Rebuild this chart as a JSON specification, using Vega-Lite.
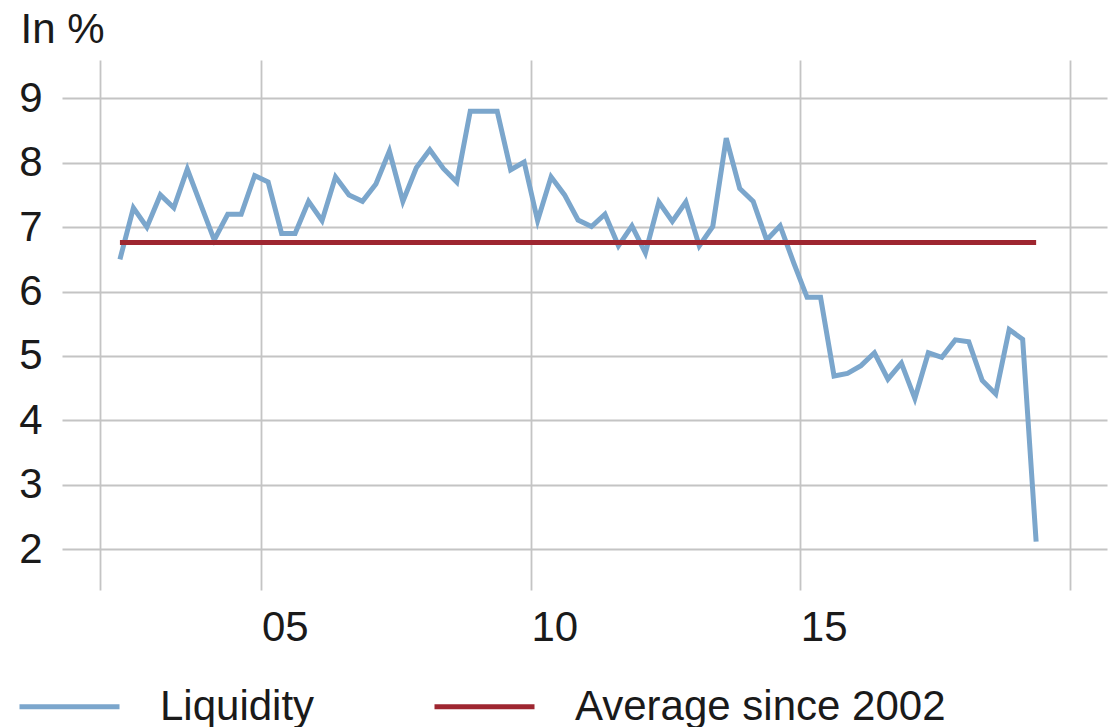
{
  "$schema": "https://vega.github.io/schema/vega-lite/v6.json",
  "width": 1045,
  "height": 530,
  "autosize": {"type": "none"},
  "padding": {"left": 62, "top": 60, "right": 6, "bottom": 137},
  "background": "white",
  "config": {
    "view": {"stroke": null},
    "font": "Liberation Sans",
    "axis": {
      "gridColor": "#c4c4c4",
      "gridWidth": 1.8,
      "domain": false,
      "ticks": false,
      "tickSize": 0,
      "labelFont": "Liberation Sans",
      "labelFontSize": 42,
      "labelColor": "#1a1a1a",
      "titleFont": "Liberation Sans"
    }
  },
  "datasets": {
    "liq": [
      {"t": 2002.375, "v": 6.5, "series": "Liquidity"},
      {"t": 2002.625, "v": 7.3, "series": "Liquidity"},
      {"t": 2002.875, "v": 7.0, "series": "Liquidity"},
      {"t": 2003.125, "v": 7.5, "series": "Liquidity"},
      {"t": 2003.375, "v": 7.3, "series": "Liquidity"},
      {"t": 2003.625, "v": 7.9, "series": "Liquidity"},
      {"t": 2003.875, "v": 7.35, "series": "Liquidity"},
      {"t": 2004.125, "v": 6.8, "series": "Liquidity"},
      {"t": 2004.375, "v": 7.2, "series": "Liquidity"},
      {"t": 2004.625, "v": 7.2, "series": "Liquidity"},
      {"t": 2004.875, "v": 7.8, "series": "Liquidity"},
      {"t": 2005.125, "v": 7.7, "series": "Liquidity"},
      {"t": 2005.375, "v": 6.9, "series": "Liquidity"},
      {"t": 2005.625, "v": 6.9, "series": "Liquidity"},
      {"t": 2005.875, "v": 7.4, "series": "Liquidity"},
      {"t": 2006.125, "v": 7.1, "series": "Liquidity"},
      {"t": 2006.375, "v": 7.78, "series": "Liquidity"},
      {"t": 2006.625, "v": 7.5, "series": "Liquidity"},
      {"t": 2006.875, "v": 7.4, "series": "Liquidity"},
      {"t": 2007.125, "v": 7.67, "series": "Liquidity"},
      {"t": 2007.375, "v": 8.18, "series": "Liquidity"},
      {"t": 2007.625, "v": 7.4, "series": "Liquidity"},
      {"t": 2007.875, "v": 7.92, "series": "Liquidity"},
      {"t": 2008.125, "v": 8.2, "series": "Liquidity"},
      {"t": 2008.375, "v": 7.91, "series": "Liquidity"},
      {"t": 2008.625, "v": 7.7, "series": "Liquidity"},
      {"t": 2008.875, "v": 8.8, "series": "Liquidity"},
      {"t": 2009.125, "v": 8.8, "series": "Liquidity"},
      {"t": 2009.375, "v": 8.8, "series": "Liquidity"},
      {"t": 2009.625, "v": 7.89, "series": "Liquidity"},
      {"t": 2009.875, "v": 8.01, "series": "Liquidity"},
      {"t": 2010.125, "v": 7.1, "series": "Liquidity"},
      {"t": 2010.375, "v": 7.78, "series": "Liquidity"},
      {"t": 2010.625, "v": 7.5, "series": "Liquidity"},
      {"t": 2010.875, "v": 7.11, "series": "Liquidity"},
      {"t": 2011.125, "v": 7.01, "series": "Liquidity"},
      {"t": 2011.375, "v": 7.2, "series": "Liquidity"},
      {"t": 2011.625, "v": 6.71, "series": "Liquidity"},
      {"t": 2011.875, "v": 7.02, "series": "Liquidity"},
      {"t": 2012.125, "v": 6.6, "series": "Liquidity"},
      {"t": 2012.375, "v": 7.39, "series": "Liquidity"},
      {"t": 2012.625, "v": 7.09, "series": "Liquidity"},
      {"t": 2012.875, "v": 7.39, "series": "Liquidity"},
      {"t": 2013.125, "v": 6.71, "series": "Liquidity"},
      {"t": 2013.375, "v": 7.01, "series": "Liquidity"},
      {"t": 2013.625, "v": 8.38, "series": "Liquidity"},
      {"t": 2013.875, "v": 7.6, "series": "Liquidity"},
      {"t": 2014.125, "v": 7.4, "series": "Liquidity"},
      {"t": 2014.375, "v": 6.8, "series": "Liquidity"},
      {"t": 2014.625, "v": 7.02, "series": "Liquidity"},
      {"t": 2014.875, "v": 6.45, "series": "Liquidity"},
      {"t": 2015.125, "v": 5.91, "series": "Liquidity"},
      {"t": 2015.375, "v": 5.91, "series": "Liquidity"},
      {"t": 2015.625, "v": 4.69, "series": "Liquidity"},
      {"t": 2015.875, "v": 4.73, "series": "Liquidity"},
      {"t": 2016.125, "v": 4.85, "series": "Liquidity"},
      {"t": 2016.375, "v": 5.05, "series": "Liquidity"},
      {"t": 2016.625, "v": 4.64, "series": "Liquidity"},
      {"t": 2016.875, "v": 4.89, "series": "Liquidity"},
      {"t": 2017.125, "v": 4.34, "series": "Liquidity"},
      {"t": 2017.375, "v": 5.05, "series": "Liquidity"},
      {"t": 2017.625, "v": 4.98, "series": "Liquidity"},
      {"t": 2017.875, "v": 5.25, "series": "Liquidity"},
      {"t": 2018.125, "v": 5.22, "series": "Liquidity"},
      {"t": 2018.375, "v": 4.62, "series": "Liquidity"},
      {"t": 2018.625, "v": 4.41, "series": "Liquidity"},
      {"t": 2018.875, "v": 5.41, "series": "Liquidity"},
      {"t": 2019.125, "v": 5.26, "series": "Liquidity"},
      {"t": 2019.375, "v": 2.12, "series": "Liquidity"}
    ],
    "avg": [
      {"t": 2002.375, "v": 6.76, "series": "Average since 2002"},
      {"t": 2019.375, "v": 6.76, "series": "Average since 2002"}
    ]
  },
  "encoding": {
    "x": {
      "field": "t",
      "type": "quantitative",
      "scale": {"domain": [2001.3, 2020.69], "nice": false, "zero": false},
      "axis": {
        "title": null,
        "values": [2002, 2005, 2010, 2015, 2020],
        "labelExpr": "datum.value == 2005 ? '05' : datum.value == 2010 ? '10' : datum.value == 2015 ? '15' : ''",
        "labelAlign": "left",
        "labelDx": 3,
        "labelBaseline": "alphabetic",
        "labelPadding": 50,
        "labelFlush": false,
        "labelOverlap": false
      }
    },
    "y": {
      "field": "v",
      "type": "quantitative",
      "scale": {"domain": [1.368, 9.594], "nice": false, "zero": false},
      "axis": {
        "values": [2, 3, 4, 5, 6, 7, 8, 9],
        "labelAlign": "right",
        "labelBaseline": "middle",
        "labelDy": 0,
        "labelPadding": 20,
        "title": "In %",
        "titleAngle": 0,
        "titleAlign": "left",
        "titleBaseline": "alphabetic",
        "titleX": -42,
        "titleY": -18,
        "titleFontSize": 42,
        "titleFontWeight": "normal",
        "titleColor": "#1a1a1a"
      }
    },
    "color": {
      "field": "series",
      "type": "nominal",
      "scale": {"domain": ["Liquidity", "Average since 2002"], "range": ["#7ba6cc", "#9e2630"]},
      "legend": {
        "title": null,
        "orient": "none",
        "legendX": -45,
        "legendY": 594,
        "direction": "horizontal",
        "padding": 0,
        "symbolType": "stroke",
        "symbolSize": 10000,
        "symbolStrokeWidth": 5,
        "labelFont": "Liberation Sans",
        "labelFontSize": 42,
        "labelColor": "#1a1a1a",
        "labelLimit": 0,
        "labelOffset": 38,
        "columnPadding": 109
      }
    }
  },
  "layer": [
    {"data": {"name": "liq"}, "mark": {"type": "line", "strokeWidth": 5}},
    {"data": {"name": "avg"}, "mark": {"type": "line", "strokeWidth": 5}}
  ]
}
